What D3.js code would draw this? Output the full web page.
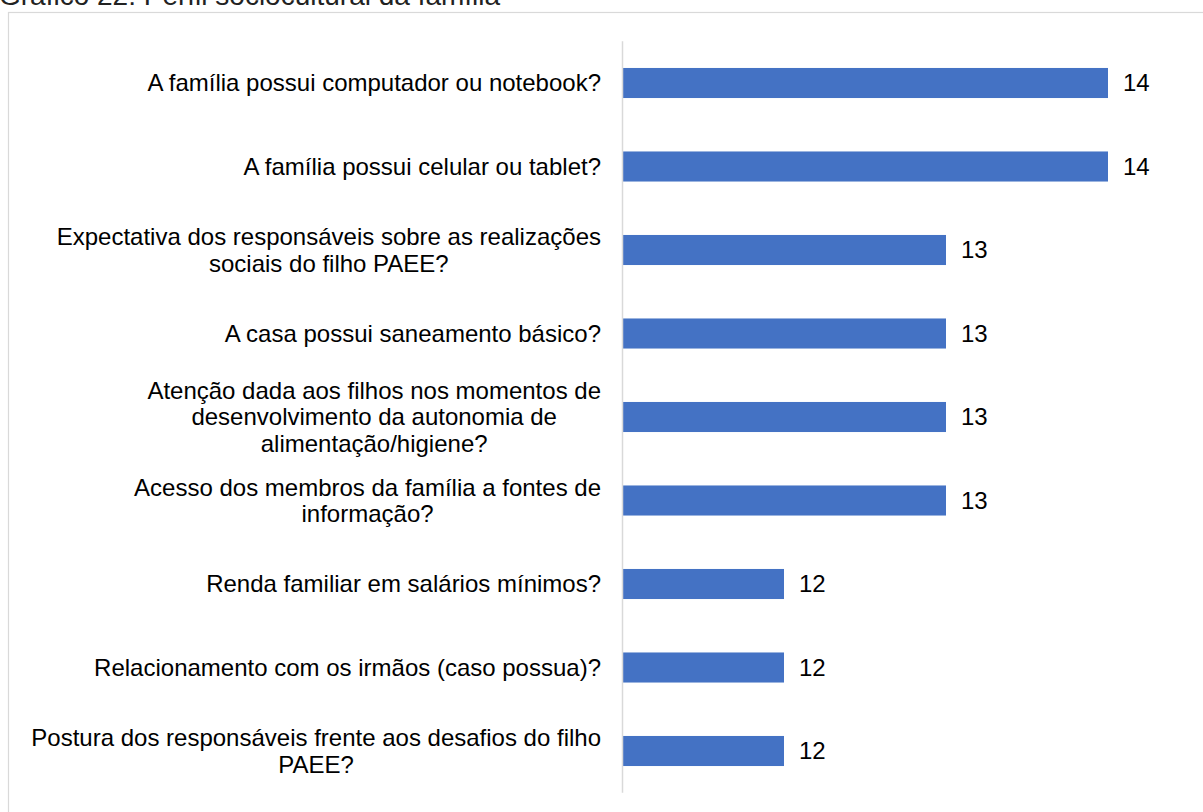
<!DOCTYPE html>
<html lang="pt-BR">
<head>
<meta charset="utf-8">
<title>Gráfico 22: Perfil sociocultural da família</title>
<script src="https://cdn.jsdelivr.net/npm/d3@7"></script>
<style>
  html, body { margin: 0; padding: 0; background: #ffffff; }
  svg { display: block; }
  text { font-family: "Liberation Sans", Arial, sans-serif; fill: #000000; }
</style>
</head>
<body>
<svg id="chart" width="1203" height="812"></svg>
<script>
// Perguntas do perfil sociocultural (quebras de linha como no rótulo)
const categories = [
  ["A família possui computador ou notebook?"],
  ["A família possui celular ou tablet?"],
  ["Expectativa dos responsáveis sobre as realizações", "sociais do filho PAEE?"],
  ["A casa possui saneamento básico?"],
  ["Atenção dada aos filhos nos momentos de", "desenvolvimento da autonomia de", "alimentação/higiene?"],
  ["Acesso dos membros da família a fontes de", "informação?"],
  ["Renda familiar em salários mínimos?"],
  ["Relacionamento com os irmãos (caso possua)?"],
  ["Postura dos responsáveis frente aos desafios do filho", "PAEE?"]
];

// Número de respostas por pergunta
const values = [14, 14, 13, 13, 13, 13, 12, 12, 12];

// Limites do eixo de valores
const axisMin = 11;
const axisMax = 15;

const title = "Gráfico 22: Perfil sociocultural da família";

const svg = d3.select("#chart");
const keys = categories.map((c, i) => i);

const x = d3.scaleLinear().domain([axisMin, axisMax]).range([622, 1270]);
const y = d3.scaleBand().domain(keys).range([41.25, 792.75])
  .paddingInner(0.64).paddingOuter(0.32);

// Título (parcialmente acima da área visível)
svg.append("text")
  .attr("x", -1)
  .attr("y", 5)
  .style("font-size", "28px")
  .style("fill", "#222")
  .text(title);

// Moldura do gráfico
svg.append("rect")
  .attr("x", 8.5).attr("y", 12.5)
  .attr("width", 1300).attr("height", 900)
  .attr("fill", "none")
  .attr("stroke", "#d9d9d9")
  .attr("stroke-width", 1.2);

// Barras
svg.append("g").selectAll("rect")
  .data(values)
  .join("rect")
  .attr("x", x(axisMin))
  .attr("y", (d, i) => y(i))
  .attr("width", d => x(d) - x(axisMin))
  .attr("height", y.bandwidth())
  .attr("fill", "#4472C4");

// Eixo das categorias (somente a linha)
const yAxis = svg.append("g")
  .attr("transform", `translate(${x(axisMin)},0)`)
  .call(d3.axisLeft(y).tickSize(0).tickFormat(""));
yAxis.select(".domain").attr("stroke", "#d9d9d9").attr("stroke-width", 1.5)
  .attr("d", `M0.5,${y.range()[0]}V${y.range()[1]}`);

// Rótulos das categorias
const labelRight = 601;
const lineH = 26.5;
const labels = svg.append("g").selectAll("text")
  .data(categories)
  .join("text")
  .style("font-size", "24px")
  .attr("text-anchor", "middle");

labels.each(function (lines, i) {
  const t = d3.select(this);
  const cy = y(i) + y.bandwidth() / 2;
  const y0 = cy - (lines.length - 1) * lineH / 2;
  lines.forEach((ln, k) => {
    t.append("tspan")
      .attr("y", y0 + k * lineH)
      .attr("dy", "0.35em")
      .text(ln);
  });
  let maxW = 0;
  t.selectAll("tspan").each(function () {
    maxW = Math.max(maxW, this.getComputedTextLength());
  });
  t.selectAll("tspan").attr("x", labelRight - maxW / 2);
});

// Rótulos de valor
svg.append("g").selectAll("text")
  .data(values)
  .join("text")
  .attr("x", d => x(d) + 15)
  .attr("y", (d, i) => y(i) + y.bandwidth() / 2)
  .attr("dy", "0.35em")
  .style("font-size", "24px")
  .text(d => d);
</script>
</body>
</html>
